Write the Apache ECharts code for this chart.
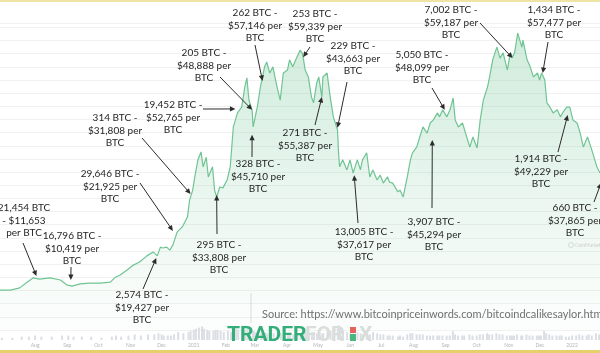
<!DOCTYPE html>
<html><head><meta charset="utf-8">
<script src="https://cdn.jsdelivr.net/npm/echarts@6/dist/echarts.min.js"></script>
<style>html,body{margin:0;padding:0;background:#fff}#c{width:600px;height:353px}</style>
</head><body><div id="c"></div>
<script>
// ---- data ----
const dates = [
'2020-06-30','2020-07-10','2020-07-19','2020-07-26','2020-08-01','2020-08-07','2020-08-17','2020-08-27','2020-09-02','2020-09-07',
'2020-09-15','2020-09-24','2020-10-04','2020-10-14','2020-10-18','2020-10-23','2020-10-30','2020-11-05','2020-11-11','2020-11-18',
'2020-11-24','2020-11-28','2020-12-01','2020-12-03','2020-12-07','2020-12-10','2020-12-13','2020-12-17','2020-12-22','2020-12-27',
'2020-12-29','2021-01-01','2021-01-03','2021-01-06','2021-01-09','2021-01-11','2021-01-14','2021-01-16','2021-01-20','2021-01-22',
'2021-01-24','2021-01-27','2021-01-30','2021-02-03','2021-02-06','2021-02-09','2021-02-11','2021-02-13','2021-02-17','2021-02-20',
'2021-02-22','2021-02-24','2021-02-27','2021-02-28','2021-03-02','2021-03-04','2021-03-07','2021-03-09','2021-03-11','2021-03-13',
'2021-03-16','2021-03-19','2021-03-23','2021-03-26','2021-03-29','2021-04-02','2021-04-04','2021-04-07','2021-04-11','2021-04-14',
'2021-04-16','2021-04-17','2021-04-19','2021-04-22','2021-04-25','2021-04-27','2021-04-30','2021-05-02','2021-05-05','2021-05-06',
'2021-05-10','2021-05-13','2021-05-16','2021-05-20','2021-05-21','2021-05-22','2021-05-25','2021-05-29','2021-06-01','2021-06-04',
'2021-06-08','2021-06-11','2021-06-13','2021-06-17','2021-06-20','2021-06-23','2021-06-27','2021-06-30','2021-07-03','2021-07-07',
'2021-07-09','2021-07-12','2021-07-17','2021-07-19','2021-07-22','2021-07-26','2021-07-29','2021-07-31','2021-08-04','2021-08-07',
'2021-08-10','2021-08-14','2021-08-17','2021-08-20','2021-08-24','2021-08-26','2021-08-29','2021-09-02','2021-09-05','2021-09-08',
'2021-09-10','2021-09-13','2021-09-17','2021-09-19','2021-09-24','2021-09-27','2021-10-01','2021-10-04','2021-10-07','2021-10-11',
'2021-10-13','2021-10-16','2021-10-20','2021-10-23','2021-10-26','2021-10-30','2021-11-02','2021-11-04','2021-11-06','2021-11-09',
'2021-11-13','2021-11-14','2021-11-18','2021-11-21','2021-11-24','2021-11-28','2021-11-30','2021-12-02','2021-12-05','2021-12-07',
'2021-12-10','2021-12-13','2021-12-17','2021-12-20','2021-12-22','2021-12-26','2021-12-29','2022-01-01','2022-01-05','2022-01-08',
'2022-01-11','2022-01-15','2022-01-17','2022-01-20','2022-01-24','2022-01-27'
];
const prices = [
9100,9100,9600,10900,11900,11600,11900,11400,10300,10000,
10500,10700,10700,10900,11900,12500,13700,14800,15500,16900,
17800,16900,18900,18700,18900,18200,19400,22300,23500,25800,
29600,31900,34900,38800,40600,37200,39400,34900,37200,31900,
30300,32600,32400,34200,37200,46300,47900,49500,50800,55400,
57500,52400,50200,46300,48600,50800,55400,57700,60000,61100,
58600,60000,55400,52400,58600,59300,61600,60000,62200,63800,
63200,62200,59300,57700,53100,51800,56300,57700,53100,57700,
58600,53100,48600,45600,40400,37200,38800,36500,38800,35800,
38800,36500,38800,40400,34900,36500,34200,35300,33500,34900,
33700,33500,31500,31900,30300,34900,38800,40400,41700,44000,
46300,44900,47200,47900,49500,48600,50200,48600,50200,52900,
47900,46300,47200,45600,41700,44000,41500,47900,52400,55400,
57700,61600,64500,62000,63200,59300,63200,62200,63200,67700,
64500,66100,61600,60000,57700,58600,57000,58600,57000,51800,
50800,49500,50200,48600,49500,50800,50800,47900,47200,44900,
41700,44000,42600,40400,37200,35800
];
const volumes = [
2,2,3,3,4,3,3,4,4,3,
3,3,2,3,4,3,4,5,4,5,
5,6,5,4,4,4,5,7,6,7,
8,9,10,11,12,10,9,8,8,9,
9,8,7,8,7,9,10,9,8,9,
11,9,8,8,7,6,6,6,7,6,
6,6,7,6,6,5,5,5,6,6,
6,8,7,6,7,7,6,6,6,6,
7,8,8,10,13,10,8,7,6,6,
7,6,5,6,5,7,6,5,5,4,
4,4,3,4,3,5,6,6,5,5,
5,4,4,4,4,4,4,4,4,8,
5,4,4,4,5,4,4,5,5,6,
5,5,6,5,5,4,4,4,4,5,
4,4,5,4,4,4,4,4,8,6,
5,4,4,4,4,3,3,4,4,5,
4,4,5,4,6,5
];
const monthLabels = ['Jan','Feb','Mar','Apr','May','Jun','Jul','Aug','Sep','Oct','Nov','Dec'];
const firstLabelDate = '2020-08-01';
const annotationTexts = [
'21,454 BTC\n- $11,653\nper BTC',
'16,796 BTC -\n$10,419 per\nBTC',
'2,574 BTC -\n$19,427 per\nBTC',
'29,646 BTC -\n$21,925 per\nBTC',
'314 BTC -\n$31,808 per\nBTC',
'19,452 BTC -\n$52,765 per\nBTC',
'205 BTC -\n$48,888 per\nBTC',
'328 BTC -\n$45,710 per\nBTC',
'295 BTC -\n$33,808 per\nBTC',
'262 BTC -\n$57,146 per\nBTC',
'253 BTC -\n$59,339 per\nBTC',
'271 BTC -\n$55,387 per\nBTC',
'229 BTC -\n$43,663 per\nBTC',
'13,005 BTC -\n$37,617 per\nBTC',
'3,907 BTC -\n$45,294 per\nBTC',
'5,050 BTC -\n$48,099 per\nBTC',
'7,002 BTC -\n$59,187 per\nBTC',
'1,434 BTC -\n$57,477 per\nBTC',
'1,914 BTC -\n$49,229 per\nBTC',
'660 BTC -\n$37,865 per\nBTC'
];
const annotationDates = ['2020-08-04','2020-09-06','2020-11-27','2020-12-13','2020-12-30','2021-02-11','2021-02-27','2021-02-27','2021-01-24','2021-03-09',
'2021-04-17','2021-05-05','2021-05-20','2021-06-05','2021-08-19','2021-08-31','2021-11-04','2021-12-03','2021-12-27','2022-01-28'];
const annotationPrices = [12300,11400,16400,22600,31000,50400,50200,44500,30800,56800,
62200,53100,46100,35300,43300,50200,62000,58600,49000,33500];
const sourceText = 'Source: https://www.bitcoinpriceinwords.com/bitcoindcalikesaylor.html';

// ---- layout (pixels): label centre x, first-line centre y, arrow start x, arrow start y ----
const annotationLayout = [
[24,208,23,243],[72,236,71,267],[142,295,143,289],[110,174,140,183],[115,118,142,138],
[173,105,203,109],[204,53,220,77],[258,164,252,157],[219,245,217,234],[255,13,255,45],
[315,14,310,47],[305,133,315,125],[353,46,347,82],[364,232,358,223],[434,222,432,208],
[422,55,432,88],[451,10,480,23],[554,10,548,42],[541,159,558,152],[575,208,594,202]
];

const FONT = 'Lato, "Open Sans", sans-serif';
const chart = echarts.init(document.getElementById('c'));
const firstLabelTime = echarts.time.parse(firstLabelDate).getTime();
chart.setOption({
  animation: false,
  backgroundColor: '#ffffff',
  grid: [{left:0,right:0,top:23,bottom:23},{left:0,right:0,top:322,height:18}],
  xAxis: [
    {type:'time',gridIndex:0,min:'2020-06-30',max:'2022-01-27',show:false},
    {type:'time',gridIndex:1,min:'2020-06-30',max:'2022-01-27',splitNumber:18,
     axisLine:{show:false},axisTick:{show:false},splitLine:{show:false},
     axisLabel:{fontSize:5,color:'#b5b5b5',margin:3,fontFamily:FONT,
       formatter:function(v){if(v<firstLabelTime)return '';const d=new Date(v);return d.getMonth()===0?String(d.getFullYear()):monthLabels[d.getMonth()];}}}
  ],
  yAxis: [
    {type:'value',gridIndex:0,min:0,max:70000,interval:3000,axisLine:{show:false},axisTick:{show:false},
     axisLabel:{show:false},splitLine:{show:true,lineStyle:{color:'#f1f1f1',width:1}}},
    {type:'value',gridIndex:1,min:0,max:16,show:false,splitLine:{show:false}}
  ],
  series: [
    {type:'line',xAxisIndex:0,yAxisIndex:0,symbol:'none',silent:true,
     data:dates.map((d,i)=>[d,prices[i]]),
     lineStyle:{color:'#70c494',width:1.2},
     areaStyle:{color:new echarts.graphic.LinearGradient(0,0,0,1,[
       {offset:0,color:'rgba(114,197,150,0.48)'},
       {offset:0.6,color:'rgba(114,197,150,0.19)'},
       {offset:1,color:'rgba(114,197,150,0.03)'}])}},
    {type:'bar',xAxisIndex:1,yAxisIndex:1,silent:true,barWidth:2,
     data:dates.map((d,i)=>[d,volumes[i]]),itemStyle:{color:'#dcdee5'}}
  ]
});

const els = [];
els.push({type:'rect',shape:{x:0,y:0,width:600,height:2},style:{fill:'#efe4a8'},z:10});
els.push({type:'rect',shape:{x:0,y:350,width:600,height:3},style:{fill:'#e6d06b'},z:10});
els.push({type:'line',shape:{x1:251,y1:293,x2:251,y2:323},style:{stroke:'#dadada',lineWidth:1},z:5});
els.push({type:'text',style:{text:sourceText,x:262,y:314,verticalAlign:'middle',font:'11px '+FONT,fill:'#707070'},z:10});
els.push({type:'text',style:{text:'TRADER',x:227,y:336,verticalAlign:'middle',font:'bold 21px Roboto',fill:'#34ae79'},z:10});
els.push({type:'text',style:{text:'FOR',x:305,y:336,verticalAlign:'middle',font:'bold 21px Roboto',fill:'#d9dedb'},z:10});
els.push({type:'rect',shape:{x:350,y:327,width:6,height:6},style:{fill:'#e2645d'},z:10});
els.push({type:'rect',shape:{x:350,y:334,width:6,height:7},style:{fill:'#4bb77e'},z:10});
els.push({type:'text',style:{text:'X',x:359,y:336,verticalAlign:'middle',font:'bold 21px Roboto',fill:'#d9dedb'},z:10});
els.push({type:'circle',shape:{cx:571,cy:245,r:2.5},style:{fill:'none',stroke:'#d2d2d2',lineWidth:0.8},z:10});
els.push({type:'text',style:{text:'CoinMarketCap',x:575,y:245,verticalAlign:'middle',font:'5px '+FONT,fill:'#cfcfcf'},z:10});

annotationTexts.forEach((t,i)=>{
  const L0 = annotationLayout[i];
  const p = chart.convertToPixel({seriesIndex:0},[annotationDates[i],annotationPrices[i]]);
  const tx=p[0], ty=p[1], sx=L0[2], sy=L0[3];
  els.push({type:'text',z:20,style:{text:t,x:L0[0],y:L0[1]-6.25,align:'center',verticalAlign:'top',
    font:'10px '+FONT,lineHeight:12.5,fill:'#1f1f1f'}});
  const dx=tx-sx, dy=ty-sy, len=Math.hypot(dx,dy), ux=dx/len, uy=dy/len, nx=-uy, ny=ux;
  els.push({type:'line',z:20,shape:{x1:sx,y1:sy,x2:tx-ux*4,y2:ty-uy*4},style:{stroke:'#2b2b2b',lineWidth:1}});
  els.push({type:'polygon',z:20,shape:{points:[[tx,ty],[tx-ux*5.5+nx*2.6,ty-uy*5.5+ny*2.6],[tx-ux*5.5-nx*2.6,ty-uy*5.5-ny*2.6]]},style:{fill:'#2b2b2b'}});
});
chart.setOption({graphic:{elements:els}});
</script>
</body></html>
